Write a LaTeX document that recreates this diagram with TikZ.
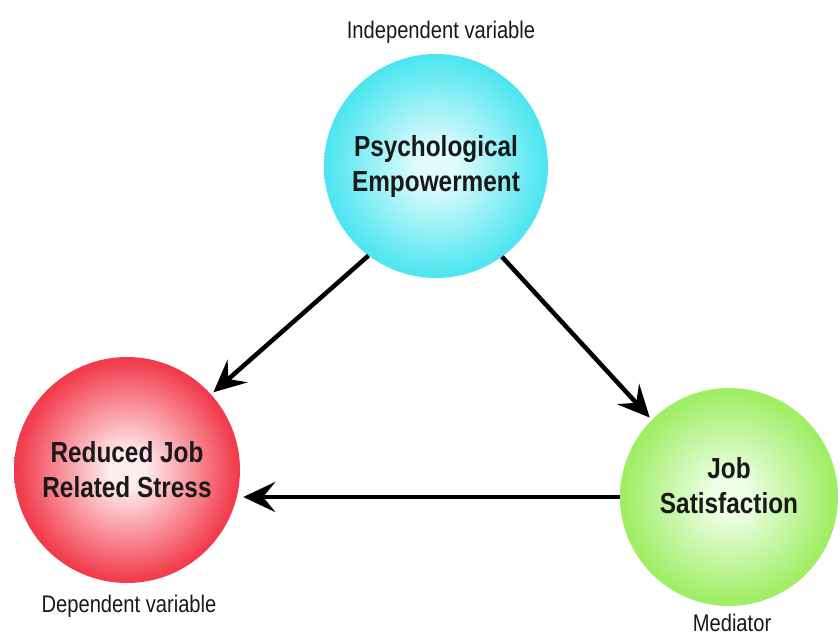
\documentclass[tikz,border=0pt]{standalone}
\usepackage{fontspec}
\setmainfont{Liberation Sans}
\newfontfamily\tagfont{Liberation Sans}[FakeStretch=0.84]
\newfontfamily\ballfont{Liberation Sans}[FakeStretch=0.84]
\usetikzlibrary{arrows.meta}

% ball colours: centre, middle and rim of each sphere
\definecolor{cyanin}{RGB}{225,252,253}
\definecolor{cyanmid}{RGB}{80,230,240}
\definecolor{cyanrim}{RGB}{20,214,230}
\definecolor{redin}{RGB}{255,236,238}
\definecolor{redmid}{RGB}{242,62,78}
\definecolor{redrim}{RGB}{228,10,32}
\definecolor{greenin}{RGB}{238,255,230}
\definecolor{greenmid}{RGB}{160,238,102}
\definecolor{greenrim}{RGB}{122,226,50}

\pgfdeclareradialshading{cyanball}{\pgfpoint{0bp}{0bp}}{color(0bp)=(cyanin); color(4bp)=(cyanin); color(24bp)=(cyanmid); color(40bp)=(cyanrim); color(50bp)=(cyanrim)}
\pgfdeclareradialshading{redball}{\pgfpoint{0bp}{0bp}}{color(0bp)=(redin); color(4bp)=(redin); color(24bp)=(redmid); color(40bp)=(redrim); color(50bp)=(redrim)}
\pgfdeclareradialshading{greenball}{\pgfpoint{0bp}{0bp}}{color(0bp)=(greenin); color(4bp)=(greenin); color(24bp)=(greenmid); color(40bp)=(greenrim); color(50bp)=(greenrim)}

\tikzset{
  ballfonts/.style={font=\ballfont\bfseries\fontsize{29}{35}\selectfont, text=black!90},
  ball/.style={circle, inner sep=0pt, align=center, ballfonts},
  tag/.style={anchor=base, inner sep=0pt,
    font=\tagfont\fontsize{24}{28}\selectfont, text=black!90},
  link/.style={line width=4.5pt, draw=black, shorten >=3pt,
    -{Stealth[length=32pt, width=30pt, inset=12pt]}}
}

\begin{document}
\begin{tikzpicture}[x=1pt, y=-1pt]
  \useasboundingbox (0,0) rectangle (840,635);

  % the three variables
  \node[ball, shading=cyanball, minimum size=224pt] (pe) at (436,166) {Psychological\\Empowerment};
  \node[ball, shading=redball, minimum size=226pt] (rs) at (127,470) {Reduced Job\\Related Stress};
  \node[ball, shading=greenball, minimum size=218pt,
        label={[ballfonts, align=center, yshift=11pt]center:Job\\Satisfaction}] (js) at (729,497) {};

  % role captions
  \node[tag] (iv) at (441,38) {Independent variable};
  \node[tag] (dv) at (129,612) {Dependent variable};
  \node[tag] (mv) at (732,631) {Mediator};

  % causal paths
  \draw[link] (pe.233) -- (rs.42);
  \draw[link] (pe.306) -- (js.135);
  \draw[link] (js.west) -- (js.west -| rs.east);
\end{tikzpicture}
\end{document}
